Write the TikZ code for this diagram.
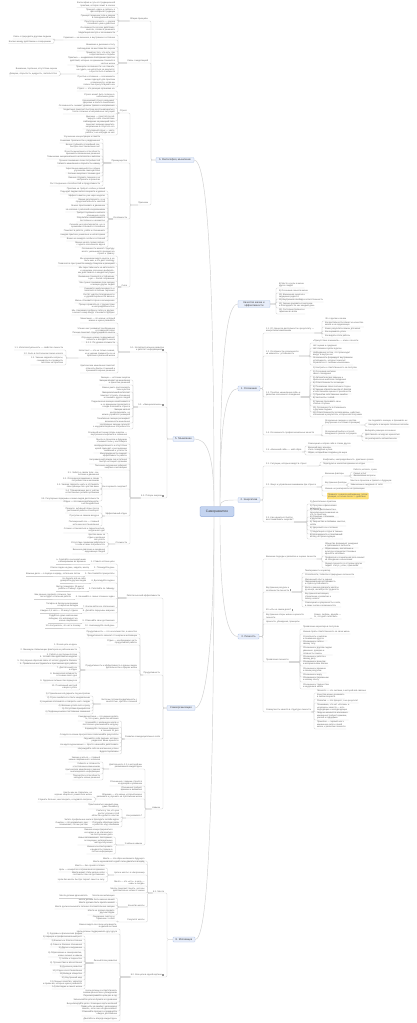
\documentclass[tikz,border=0pt]{standalone}
\usepackage{fontspec}
\setmainfont{Liberation Sans}
\usetikzlibrary{calc}
\definecolor{lineC}{HTML}{D0D0D0}
\definecolor{txtC}{HTML}{666666}
\definecolor{subC}{HTML}{404040}
\definecolor{boxF}{HTML}{E8EEFA}
\definecolor{boxD}{HTML}{B3C6E8}
\definecolor{cenF}{HTML}{C4D4F0}
\definecolor{cenD}{HTML}{89A5D8}
\definecolor{noteF}{HTML}{FFE27A}
\definecolor{noteD}{HTML}{F2CC55}
\definecolor{icoC}{HTML}{9A9A9A}
\newcommand\ico{\kern0.6pt\textcolor{icoC}{\rule[-0.2pt]{1.6pt}{2.1pt}}}
\tikzset{
  conn/.style={draw=lineC, line width=0.3pt, rounded corners=1.2pt},
  mainconn/.style={draw=lineC, line width=0.45pt},
  leafbase/.style={inner xsep=0.3pt, inner ysep=0.45pt, text=txtC, font=\fontsize{2.2}{2.75}\selectfont},
  leafL/.style={leafbase, anchor=south east, align=right},
  leafR/.style={leafbase, anchor=south west, align=left},
  mainbox/.style={draw=boxD, fill=boxF, line width=0.3pt, rounded corners=0.8pt, inner xsep=1.2pt, inner ysep=0.7pt, minimum height=5pt, text=subC, font=\fontsize{2.6}{3.1}\selectfont, align=center},
  centerbox/.style={draw=cenD, fill=cenF, line width=0.35pt, rounded corners=1pt, minimum height=7pt, text=subC, font=\fontsize{3.3}{3.8}\selectfont},
  notebox/.style={fill=noteF, draw=noteD, line width=0.2pt, rounded corners=0.6pt, inner xsep=1pt, inner ysep=0.6pt, anchor=west, align=left, text=txtC, font=\fontsize{2.2}{2.75}\selectfont}
}
\newcommand\LG[4]{%
  \coordinate (#3B) at (#2,0);
  \foreach \yy/\ltxt [count=\i] in {#4} {%
    \node[leafL] (#3\i) at (#2-2.5,\yy) {\ltxt};
    \draw[conn] (#1) -- (#1 -| #3B) |- (#3\i.south east) -- (#3\i.south west);
  }}
\newcommand\RG[4]{%
  \coordinate (#3B) at (#2,0);
  \foreach \yy/\ltxt [count=\i] in {#4} {%
    \node[leafR] (#3\i) at (#2+2.5,\yy) {\ltxt};
    \draw[conn] (#1) -- (#1 -| #3B) |- (#3\i.south west) -- (#3\i.south east);
  }}
\newcommand\ONE[3]{%
  \node[leafL] (#2) at ([xshift=-4pt]#1.south west) {#3};
  \draw[conn] (#1.south west) -- (#2.south east) -- (#2.south west);}
\begin{document}
\begin{tikzpicture}[x=1pt,y=-1pt]
\fill[white] (0,0) rectangle (417,1023);
\useasboundingbox (0,0) rectangle (417,1023);

% ---------- central and main nodes ----------
\node[centerbox, minimum width=34pt] (C) at (217,511.5) {Саморазвитие};
\node[mainbox, minimum width=38pt] (L1) at (175,160) {6. Философия, мышление};
\node[mainbox, minimum width=21pt] (L2) at (183.5,439) {5. Мышление};
\node[mainbox, minimum width=28pt] (L3) at (181,708) {Самоорганизация};
\node[mainbox, minimum width=22pt] (L4) at (184,939.5) {8. Мотивация};
\node[mainbox, minimum width=32pt] (R0) at (254,304) {Качество жизни и\\эффективности};
\node[mainbox, minimum width=22pt] (R1) at (249,388.5) {1. Осознание};
\node[mainbox, minimum width=22pt] (R2) at (249,500) {2. Энергетика};
\node[mainbox, minimum width=21pt] (R3) at (248.5,636.5) {3. Личность};

\draw[mainconn] ([xshift=-3pt]C.north) .. controls (214,250) and (206,160) .. (L1.east);
\draw[mainconn] ([xshift=-3pt]C.north) .. controls (214,450) and (206,439) .. (L2.east);
\draw[mainconn] ([xshift=-3pt]C.south) .. controls (214,640) and (206,708) .. (L3.east);
\draw[mainconn] ([xshift=-3pt]C.south) .. controls (214,850) and (206,939.5) .. (L4.east);
\draw[mainconn] ([xshift=3pt]C.north) .. controls (220,360) and (226,304) .. (R0.west);
\draw[mainconn] ([xshift=3pt]C.north) .. controls (220,420) and (226,388.5) .. (R1.west);
\draw[mainconn] ([xshift=3pt]C.north) .. controls (220,500) and (226,500) .. (R2.west);
\draw[mainconn] ([xshift=3pt]C.south) .. controls (220,600) and (226,636.5) .. (R3.west);

% ---------- L1: 6. Философия, мышление ----------
\LG{L1.west}{151}{a}{21/{Общие принципы}, 63/{Связь с медитацией}, 205/{Признаки}}
\LG{a1.south west}{118}{aa}{7.5/{Философия и суть его традиционной\\практики, которая лежит в основе},
 14/{Принцип «здесь и сейчас» в\\философской традиции},
 20/{Принцип гармонии тела и разума\\в повседневной жизни},
 26/{Простота и ясность — основа\\спокойного ума и действия},
 32/{Осознанность во всех действиях,\\мыслях, словах и решениях}}
\LG{a2.south west}{118}{ab}{35/{Медитация как путь к осознанности},
 40/{Гармония — не внешнее, а внутреннее состояние},
 47/{Внимание к дыханию и телу},
 51/{Наблюдение за мыслями без оценки},
 57/{Принятие того, что есть, без\\сопротивления и борьбы},
 65/{Практика — ежедневное повторение простых\\действий, которые со временем становятся\\частью жизни},
 74/{Принципы осознанности: не спешить,\\не судить, не цепляться за результат,\\а просто быть в моменте},
 87/{Простые и сложные — все моменты\\жизни подходят для практики\\осознанности, когда мы\\полностью присутствуем в них}}
\LG{ab2.south west}{54}{abb}{39/{Связь с природой и другими людьми}, 43.5/{Баланс между действием и созерцанием}}
\LG{ab7.south west}{60}{abg}{71/{Внимание, терпение, отсутствие оценки}, 76/{Доверие, открытость, щедрость, любопытство}}
\LG{a3.south west}{130}{ac}{113/{Стресс}, 163/{Преимущества}, 219/{Особенности}, 287/{Сила}}
\LG{ac1.south west}{117.5}{ad}{91/{Стресс — это реакция организма на},
 99/{Стресс может быть полезен в\\небольших дозах},
 105/{Хронический стресс разрушает\\здоровье и ясность мышления},
 108/{Осознанность снижает уровень тревоги и напряжения},
 114/{Медитация помогает быстрее восстанавливаться\\после сложных и напряжённых ситуаций},
 121/{Дыхание — простой способ\\вернуть себе спокойствие},
 129/{Наблюдение за реакцией тела\\помогает вовремя заметить\\напряжение и отпустить его},
 135/{Регулярный отдых — часть\\работы, а не награда за неё}}
\LG{ac2.south west}{103}{ae}{139/{Улучшение концентрации и памяти},
 143/{Снижение тревожности и раздражения},
 149/{Более глубокий и спокойный сон,\\быстрое восстановление сил},
 156/{Ясность мышления и способность\\принимать взвешенные решения},
 159/{Повышение эмоционального интеллекта и эмпатии},
 163/{Лучшее понимание своих потребностей},
 166/{Гибкость мышления и открытость новому},
 173/{Укрепление иммунитета и общее\\улучшение самочувствия},
 176/{Больше энергии в течение дня},
 182/{Умение отпускать лишнее и не\\застревать в прошлом},
 186/{Рост творческих способностей и продуктивности}}
\LG{ac3.south west}{108}{af}{191/{Практика не требует особых условий},
 194/{Подходит людям любого возраста и уровня},
 198/{Эффект заметен уже через неделю},
 204/{Важна регулярность, а не\\продолжительность занятий},
 208/{Можно практиковать в движении},
 212/{Не связана с религией и верованиями},
 217/{Требует терпения и мягкого\\отношения к себе},
 222/{Результаты накапливаются\\постепенно и незаметно},
 229/{Сначала ум сопротивляется, но со\\временем становится спокойнее},
 233/{Помогает в работе, учёбе и отношениях},
 237/{Каждая практика уникальна и неповторима},
 241/{Важно не ожидать особых состояний},
 247/{Можно начать прямо сейчас,\\с одного осознанного вдоха}}
\LG{ac4.south west}{117.5}{ag}{256/{Осознанность меняет структуру\\мозга: уменьшается реакция на\\стресс и тревогу},
 263/{Мы начинаем видеть мысли, а не\\быть ими, и это даёт свободу},
 266/{Появляется пространство между стимулом и реакцией},
 275/{Мы перестаём жить на автопилоте\\и начинаем осознанно выбирать,\\как действовать в каждой ситуации},
 281/{Внимание становится устойчивым,\\а ум — более собранным},
 287/{Мы лучше понимаем свои эмоции\\и эмоции других людей},
 293/{Снижается импульсивность и\\появляется больше терпения},
 299/{Растёт чувство благодарности\\и удовлетворённости жизнью},
 303/{Жизнь становится ярче и насыщеннее},
 309/{Проще справляться с трудностями\\и неопределённостью},
 315/{Мы становимся добрее к себе и к другим,\\а значит и мир вокруг становится добрее}}

% ---------- L2: 5. Мышление ----------
\LG{L2.west}{167}{b}{352/{5.1. Интеллектуальное развитие\\и работа с информацией\ico}, 407/{5.2. «Эмоциональное»\ico}, 498/{5.3. Потери энергии\ico}}
\LG{b1.south west}{118}{ba}{323/{Мышление — это навык, который\\можно и нужно развивать},
 333/{Чтение книг развивает воображение\\и словарный запас},
 335/{Письмо помогает структурировать мысли},
 342/{Обучение новому поддерживает\\гибкость и молодость мозга},
 345/{5.1.1. По уровню сложности},
 358/{Интеллект — это не только знания,\\но и умение применять их на\\практике в реальной жизни},
 373/{Критическое мышление помогает\\отличать факты от мнений и\\принимать верные решения}}
\LG{ba6.south west}{66}{bb}{350/{1.1. Интеллектуальность — свойство личности}, 355/{1.2. Быть в постоянном поиске нового}, 365/{1.3. Умение задавать вопросы,\\сомневаться и проверять\\гипотезы на практике}}
\LG{b2.south west}{133}{bc}{380/{Эмоции — источник энергии},
 385/{Эмоции влияют на мышление\\и принятие решений},
 392/{Важно уметь распознавать\\свои чувства},
 400/{Эмоциональный интеллект\\помогает строить отношения\\и понимать других людей},
 409/{Подавленные эмоции накапливаются\\и со временем проявляются\\в виде болезней и стресса},
 417/{Эмоции нельзя\\контролировать, но\\можно управлять реакцией},
 423/{Позитивные эмоции расширяют\\возможности мышления},
 429/{Негативные эмоции сигналят\\о неудовлетворённых потребностях}}
\LG{b3.south west}{130}{bd}{437/{Основной источник потерь энергии —\\внутренние конфликты и сомнения},
 444/{Мысли о прошлом и будущем\\отнимают силы у настоящего},
 453/{Неопределённость и отсутствие\\целей приводят к рассеиванию\\внимания и усталости},
 458/{Многозадачность снижает\\эффективность работы},
 464/{Неправильный режим сна и питания\\быстро истощает организм},
 470/{Токсичное окружение забирает\\энергию и мотивацию},
 489/{Как сохранить энергию?},
 516/{Эффективный отдых},
 544/{Сложности}}
\LG{bd7.south west}{102}{be}{477/{3.1. Забота о своём теле: сон,\\питание и движение},
 483/{3.2. Осознанное внимание к своим\\потребностям и желаниям},
 489/{3.3. Умение говорить «нет» и отстаивать\\свои границы без чувства вины},
 495/{3.4. Планирование дня с учётом\\естественных ритмов организма},
 501/{3.5. Регулярные перерывы и смена видов деятельности}}
\LG{bd8.south west}{102}{bf}{506/{Отдых — это смена деятельности,\\а не бездействие},
 513/{Правило: активный отдых после\\умственной работы и наоборот},
 518/{Прогулки на свежем воздухе},
 526/{Полноценный сон — главный\\источник восстановления}}
\LG{bd9.south west}{108}{bg}{533/{Сложно остановиться и переключиться,\\когда много дел},
 542/{Чувство вины за\\отдых и желание\\всё успеть},
 547/{Отсутствие привычки заботиться\\о себе и своих потребностях},
 554/{Внешнее давление и ожидания\\окружающих людей}}

% ---------- L3: Самоорганизация ----------
\LG{L3.west}{163}{c}{598/{Работа высокой эффективности}, 675/{Продуктивность}, 739/{Развитие самодисциплины в себе}, 809/{Навыки}}
\LG{c1.south west}{117.5}{ca}{564/{1. Ставьте чёткие цели},
 570/{2. Планируйте день},
 576/{3. Расставляйте приоритеты},
 583/{4. Делегируйте задачи},
 591/{5. Работайте по таймеру},
 599/{6. Начинайте с самых сложных задач},
 608/{7. Исключайте все отвлечения},
 613/{8. Делайте перерывы вовремя},
 623/{9. Отмечайте свои достижения},
 628/{10. Анализируйте свой день}}
\ONE{ca1}{caa1}{а. Сделайте их конкретными\\и измеримыми во времени}
\ONE{ca2}{caa2}{Список задач на день, неделю, месяц}
\ONE{ca3}{caa3}{Важные дела — в первую очередь, остальное потом}
\ONE{ca4}{caa4}{Не берите всё на себя,\\доверяйте другим людям}
\ONE{ca5}{caa5}{Метод помидора: 25 минут\\работы и 5 минут отдыха}
\ONE{ca6}{caa6}{Чем раньше сделаете сложное, тем\\легче будет остальная работа}
\ONE{ca7}{caa7}{Телефон в беззвучном режиме\\и закрытые вкладки}
\ONE{ca8}{caa8}{Каждые 1,5 часа — 10 минут отдыха}
\ONE{ca9}{caa9}{Радуйтесь даже маленьким\\победам, это мотивирует на\\новые свершения}
\ONE{ca10}{caa10}{Что получилось, что нет и почему}
\LG{c2.south west}{140}{cb}{634/{Продуктивность — это не количество, а качество},
 638/{Продуктивность зависит от энергии и мотивации},
 645/{Отдых — необходимая часть\\продуктивной работы},
 670/{Продуктивность и эффективность в разных видах\\деятельности и сферах жизни},
 704/{Часто мы путаем продуктивность с\\занятостью, суетой и спешкой}}
\LG{cb4.south west}{80}{cc}{647/{1. Ясная цель на день},
 652/{2. Минимум отвлекающих факторов на рабочем месте},
 656/{3. Работа в состоянии потока},
 659/{4. Чёткий план действий на неделю},
 663/{5. Регулярная обратная связь от коллег, друзей и близких},
 666/{6. Правильные инструменты и приложения для работы},
 672/{7. Достаточный сон\\и отдых},
 678/{8. Физическая активность\\в течение всего дня},
 683/{9. Здоровое питание без перекусов},
 690/{10. Позитивный настрой\\и вера в успех}}
\LG{cb5.south west}{93}{cd}{696/{1) Стремление всё держать под контролем},
 700/{2) Страх ошибиться и быть неидеальным},
 704/{3) Неумение отказывать и говорить «нет» людям},
 708/{4) Желание успеть всё и сразу},
 711/{5) Отсутствие приоритетов},
 714/{6) Перфекционизм и постоянные сомнения}}
\LG{c3.south west}{121.5}{ce}{721/{Самодисциплина — это умение делать\\то, что нужно, даже без желания},
 727/{Начинайте с маленьких шагов и\\постепенно увеличивайте нагрузку},
 733/{Формируйте полезные привычки\\в течение 21 дня},
 737/{Следите за своим прогрессом и записывайте результаты},
 743/{Окружайте себя людьми, которые\\разделяют ваши ценности},
 747/{Не ждите вдохновения — просто начинайте действовать},
 751/{Награждайте себя за маленькие успехи},
 754/{Будьте терпеливы}}
\LG{c4.south west}{145}{cf}{769/{Деятельность 2.0, в которой мы\\развиваемся каждый день},
 786/{Отношения с людьми строятся\\на доверии и уважении},
 792/{Отношения требуют\\времени и внимания},
 799/{Общение — это навык, который можно\\развивать и улучшать на протяжении жизни},
 818/{Как развивать?},
 845/{Учебные навыки}}
\LG{cf1.south west}{103}{cg}{762/{Умение учиться — главный\\навык современного человека},
 768/{Гибкость и готовность\\к постоянным изменениям},
 774/{Критическое мышление и умение\\анализировать информацию},
 780/{Творчество и способность\\находить новые решения}}
\LG{cf4.south west}{95}{ch}{797/{Как бы мы ни старались, но\\хорошо общаться учимся всю жизнь},
 802/{Слушать больше, чем говорить, и задавать вопросы}}
\LG{cf5.south west}{122}{ci}{809/{Практиковаться каждый день,\\даже понемногу},
 818/{Учиться у тех, кто уже\\достиг успеха в этой\\области и делится опытом},
 822/{Читать профильные книги и проходить онлайн-курсы},
 827/{Получать обратную связь\\и работать над ошибками}}
\ONE{ci4}{cia}{Ошибки — это нормально: они\\показывают, что мы растём}
\LG{cf6.south west}{115.5}{cj}{837/{Умение концентрироваться\\на задаче и не отвлекаться\\на посторонние дела},
 845/{Навык запоминания: повторение,\\ассоциации, интервальные\\методы обучения},
 854/{Умение конспектировать\\и выделять главное в\\потоке информации}}

% ---------- L4: 8. Мотивация ----------
\LG{L4.west}{167}{d}{893/{8.1. Мечта}, 977/{8.2. Все цели в одной картине\ico}}
\LG{d1.south west}{147.5}{da}{861/{Мечта — это образ желаемого будущего},
 864/{Мечта вдохновляет и даёт силы двигаться вперёд},
 875/{Цели и мечты: в чём разница},
 886/{Мечта — это «что», а цель —\\«как» и «когда»},
 893/{Мечты помогают понять, чего мы\\действительно хотим от жизни},
 907/{Качество мечты},
 922/{Результат мечты}}
\LG{da3.south west}{107.5}{db}{868/{Мечта — без сроков и плана},
 872/{Цель — конкретна и ограничена во времени},
 877/{Мечта может стать целью, если\\составить план её достижения},
 882/{Цели без мечты быстро теряют смысл и силу}}
\LG{da6.south west}{117.5}{dc}{898/{Мечта как мотивация},
 902/{Мечта должна быть именно вашей},
 905/{Мечта должна быть яркой и живой},
 909/{Мечта должна вызывать сильные положительные эмоции},
 915/{Мечта не должна вредить\\другим людям}}
\ONE{dc1}{dca}{Мечта должна вдохновлять}
\LG{da7.south west}{117.5}{dd}{921/{Ощущение счастья и\\гармонии с собой}}
\LG{d2.south west}{120}{de}{929/{Важно видеть все свои цели вместе,\\в единой системе},
 934/{Цели должны поддерживать друг друга},
 963/{Личный план развития},
 995/{Цели должны соответствовать\\вашим ценностям и убеждениям},
 998/{Пересматривайте цели раз в год},
 1002/{Записывайте цели на бумаге и в дневнике},
 1006/{Визуализируйте цели с помощью карты желаний},
 1011/{Право «Я» на ошибку: цели можно\\менять, если они не вдохновляют},
 1016/{Отмечайте прогресс и празднуйте\\каждое достижение},
 1021/{Двигайтесь вперёд каждый день}}
\LG{de3.south west}{85}{df}{936/{1) Здоровье и физическая форма},
 939/{2) Карьера и профессиональный рост},
 943/{3) Финансы и благосостояние},
 947/{4) Семья и близкие отношения},
 950/{5) Друзья и окружение},
 957/{6) Образование и саморазвитие,\\новые знания и навыки},
 961/{7) Хобби и творчество},
 965/{8) Путешествия и впечатления},
 969/{9) Духовное развитие},
 973/{10) Отдых и восстановление},
 976/{11) Вклад в общество},
 980/{12) Внутренний мир},
 986/{13) Личные качества, характер\\и привычки, которые нужно развивать},
 989/{14) Наследие и смысл жизни}}

% ---------- R0 ----------
\RG{R0.east}{276}{ra}{288/{8) Место и роль в жизни\\других людей},
 293/{9) Осознание смысла жизни},
 299/{10) Жизненная энергия и\\ощущение радости},
 302/{11) Внутренняя свобода и ответственность},
 308/{12) Умение радоваться мелочам\\и благодарить за них каждый день},
 314/{13) Состояние баланса и\\гармонии во всём}}

% ---------- R1: 1. Осознание ----------
\RG{R1.east}{263}{rb}{333/{1.1. От процесса деятельности к результату —\\конкретным изменениям},
 356/{1.2. Особенности осознанности\\«в моменте»: устойчивость},
 397/{1.3. Понятие «мышление себя» и\\развитие осознанного поведения},
 435/{1.4. Осознанность профессиональных качеств},
 452/{1.5. «Внешний себя» — мой образ}}
\RG{rb1.south east}{322}{rc}{321/{Что я делаю и зачем},
 327/{Как деятельность влияет на качество\\жизни и на окружающих},
 331/{Какие результаты важны для меня},
 334/{Как оценивать успех},
 338/{Как видеть итоги работы}}
\RG{rb2.south east}{310}{rd}{343/{«Присутствие в моменте» — ключ к ясности},
 348/{Нет оценки и суждения},
 351/{Нет спешки и суеты в делах},
 357/{Наблюдение за тем, что происходит\\вокруг и внутри нас},
 365/{Осознанность формирует внутреннюю\\устойчивость, которая помогает\\справляться с любыми «вызовами»}}
\RG{rb3.south east}{310}{re}{370/{1) Контроль и ответственность за поступки},
 376/{2) Осознание мотивов\\своего поведения},
 382/{3) Автоматические реакции и\\привычные шаблоны поведения},
 385/{4) Ответственность за эмоции},
 389/{5) Понимание своих сильных сторон},
 394/{6) Умение отделять мысли от фактов\\и собственные оценки от реальности},
 397/{7) Принятие собственных ошибок},
 400/{8) Честность с собой},
 406/{9) Умение признавать свои\\слабые стороны},
 412/{10) Осознанность в отношениях\\с другими людьми},
 417/{11) Ответственность за свою жизнь, действия,\\отношения и результаты, которые мы получаем}}
\RG{rb4.south east}{322}{rf}{425/{Осознанные эмоции и чувства\\(внутренние состояния и реакции)},
 436/{Осознанный выбор и способ\\поведения в разных ситуациях}}
\RG{rf1.south east}{365.5}{rg}{423/{Не подавлять эмоции, а проживать их},
 427/{Находить в эмоциях полезные сигналы}}
\RG{rf2.south east}{362}{rh}{433/{Выбирать реакцию осознанно},
 437/{Действовать исходя из ценностей},
 441/{Не реагировать автоматически}}
\RG{rb5.south east}{305}{ri}{446/{Самооценка и образ себя в глазах других},
 452/{Внешний вид, манеры,\\стиль поведения и речи},
 455/{Образ, который мы создаём для мира}}

% ---------- R2: 2. Энергетика ----------
\RG{R2.east}{263}{rj}{466/{2.1. Ситуации, которые вводят в стресс},
 487/{2.2. Фокус и управление вниманием при стрессе},
 522/{2.3. Как научиться быстро\\восстанавливать энергию?}}
\RG{rj1.south east}{320}{rk}{462/{Конфликты, неопределённость, давление сроков},
 466/{Перегрузка и нехватка времени на отдых}}
\RG{rj2.south east}{322}{rl}{476/{Внешние факторы},
 485/{Внутренние факторы},
 491/{Умение не реагировать на провокации}}
\node[notebox] (rly) at (327,496) {Правило: сначала наблюдение, потом\\реакция, и только после — действие};
\draw[conn] (rj2.south east) -- (rj2.south east -| rlB) |- (rly.west);
\RG{rl1.south east}{350.5}{rm}{472/{Работа, коллеги, сроки},
 475/{Семья и быт},
 478/{Финансовые вопросы}}
\RG{rl2.south east}{347.5}{rn}{483/{Мысли о прошлом и тревога о будущем},
 487/{Завышенные ожидания от себя}}
\RG{rj3.south east}{307}{ro}{504/{1) Дыхательные практики},
 510/{2) Прогулки и физическая\\активность},
 517/{3) Смена деятельности и\\переключение внимания на\\что-то приятное},
 521/{4) Общение с близкими\\и друзьями},
 526/{5) Творчество и любимые занятия,\\хобби},
 530/{6) Здоровый сон и питание},
 534/{7) Медитация и отдых в тишине},
 539/{8) Благодарность и позитивный\\взгляд на происходящее}}

% ---------- R3: 3. Личность ----------
\RG{R3.east}{263}{rp}{559/{Внешние подходы к развитию и оценке личности},
 592/{Внутренние ресурсы и\\особенности личности\ico},
 612/{Кто «Я» на самом деле?\ico},
 619/{Внутренние опоры жизни и ценности\\личности},
 624/{Ценности, убеждения, принципы},
 662/{Проявления личности},
 712/{Совокупность качеств в структуре личности}}
\RG{rp1.south east}{322}{rq}{548/{Общество формирует ожидания\\и требования к личности},
 556/{Образование, воспитание и\\культура определяют базовые\\ценности человека},
 562/{Профессия и социальная роль влияют\\на поведение и мышление},
 568/{Оценка личности со стороны других\\людей: статус, успех, признание}}
\RG{rp2.south east}{302}{rr}{573/{Темперамент и характер},
 577/{Способности, таланты и природные склонности},
 581/{Жизненный опыт и знания},
 586/{Эмоциональная устойчивость\\и стрессоустойчивость},
 592/{Воля и умение доводить начатое\\до конца, несмотря на трудности},
 601/{Внутренняя мотивация,\\стремление к развитию и\\поиску нового},
 607/{Самооценка и уверенность в себе,\\в своих силах и возможностях}}
\RG{rp4.south east}{311}{rs}{619/{Семья, любовь, дружба —\\то, что даёт силы жить}}
\RG{rp6.south east}{300}{rt}{629/{Проявление характера в поступках},
 634/{Умение брать ответственность за свою жизнь},
 641/{Способность к эмпатии\\и пониманию других},
 646/{Отношение к себе и\\своему телу},
 655/{Отношение к другим людям:\\уважение, доверие и\\готовность помочь},
 661/{Отношение к работе и\\своему делу},
 666/{Отношение к деньгам\\и материальным благам},
 673/{Отношение к времени\\и своим ресурсам},
 677/{Отношение к миру},
 682/{Отношение к переменам\\и новому опыту},
 689/{Отношение к трудностям\\и неудачам в жизни}}
\RG{rp7.south east}{314}{ru}{693/{Личность — это система, в которой всё связано},
 699/{Качества можно развивать\\в любом возрасте},
 703/{Развитие — это процесс, а не результат},
 712/{Понимание, что нет «плохих» и\\«хороших» качеств — есть\\подходящие и неподходящие},
 720/{Люди не меняются мгновенно:\\изменения требуют времени,\\усилий и поддержки},
 729/{Принятие — первый шаг к\\изменению себя и своей\\жизни, к развитию личности}}
\end{tikzpicture}
\end{document}
